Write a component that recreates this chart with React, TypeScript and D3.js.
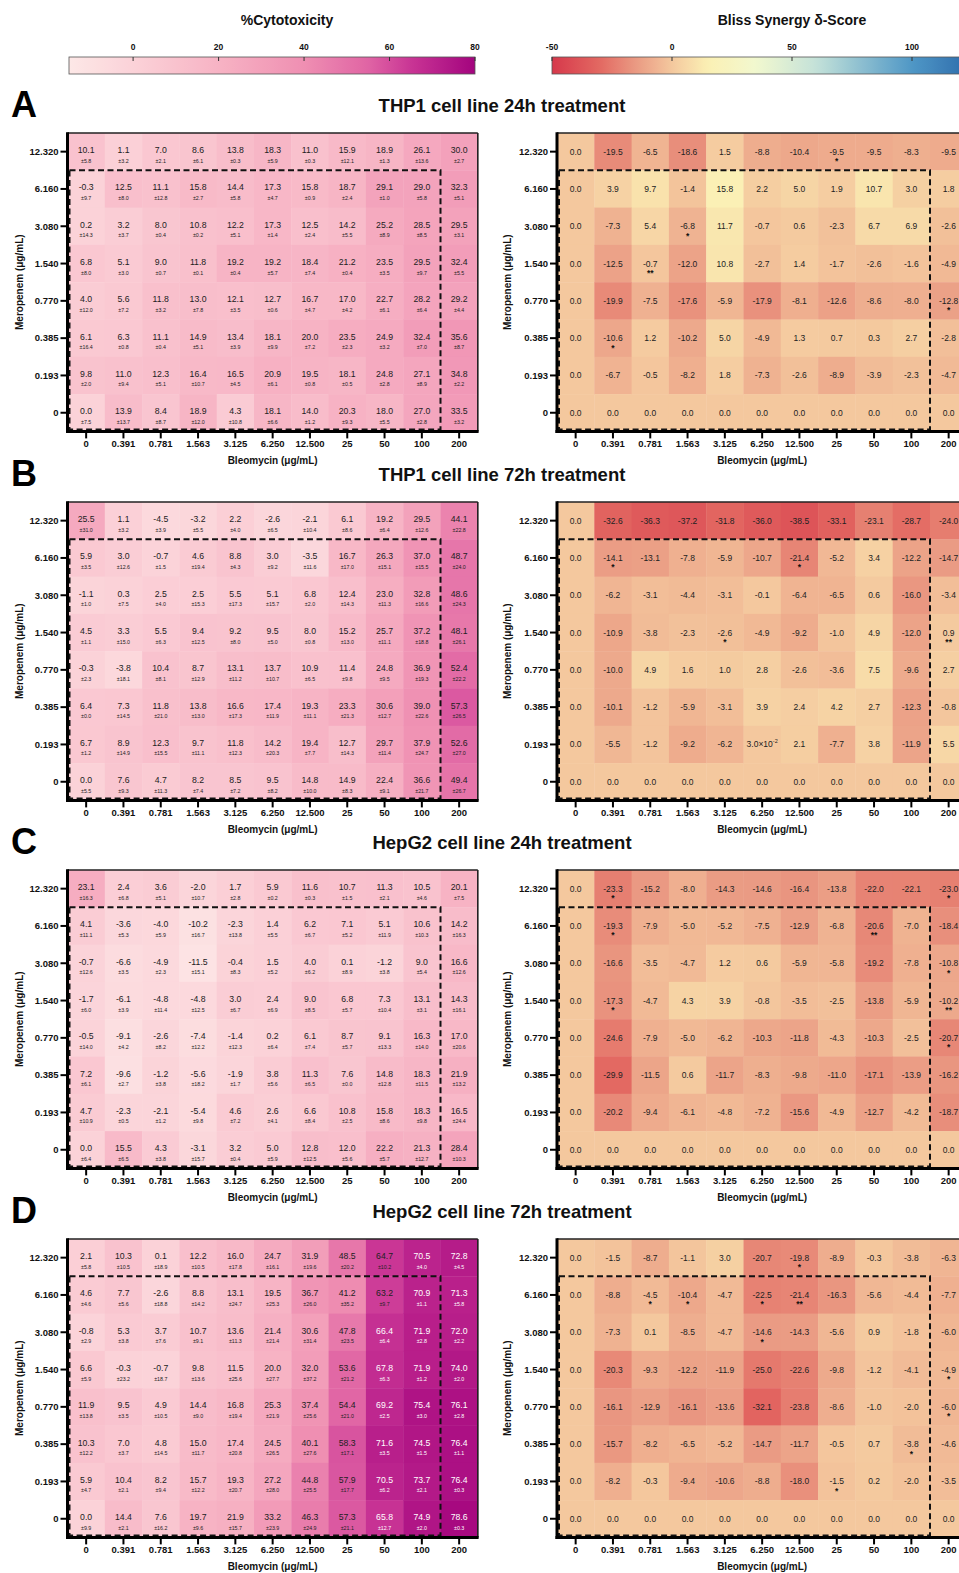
import * as d3 from 'd3';

const bleomycin = ['0', '0.391', '0.781', '1.563', '3.125', '6.250', '12.500', '25', '50', '100', '200'];
const meropenem = ['12.320', '6.160', '3.080', '1.540', '0.770', '0.385', '0.193', '0'];

// A: THP1 24h
const thp1_24_cyto = [
  [10.1, 1.1, 7.0, 8.6, 13.8, 18.3, 11.0, 15.9, 18.9, 26.1, 30.0],
  [-0.3, 12.5, 11.1, 15.8, 14.4, 17.3, 15.8, 18.7, 29.1, 29.0, 32.3],
  [0.2, 3.2, 8.0, 10.8, 12.2, 17.3, 12.5, 14.2, 25.2, 28.5, 29.5],
  [6.8, 5.1, 9.0, 11.8, 19.2, 19.2, 18.4, 21.2, 23.5, 29.5, 32.4],
  [4.0, 5.6, 11.8, 13.0, 12.1, 12.7, 16.7, 17.0, 22.7, 28.2, 29.2],
  [6.1, 6.3, 11.1, 14.9, 13.4, 18.1, 20.0, 23.5, 24.9, 32.4, 35.6],
  [9.8, 11.0, 12.3, 16.4, 16.5, 20.9, 19.5, 18.1, 24.8, 27.1, 34.8],
  [0.0, 13.9, 8.4, 18.9, 4.3, 18.1, 14.0, 20.3, 18.0, 27.0, 33.5],
];
const thp1_24_sd = [
  [5.8, 3.2, 2.1, 6.1, 0.3, 5.9, 0.3, 12.1, 1.3, 13.6, 2.7],
  [9.7, 8.0, 12.8, 2.7, 5.8, 4.7, 0.9, 2.4, 1.0, 5.8, 5.1],
  [14.3, 3.7, 0.4, 0.2, 5.1, 1.4, 2.4, 5.5, 8.9, 8.5, 3.1],
  [8.0, 3.0, 0.7, 0.1, 0.4, 5.7, 7.4, 0.4, 3.5, 9.7, 5.5],
  [12.0, 7.2, 3.2, 7.8, 3.5, 0.6, 4.7, 4.2, 6.1, 6.4, 4.4],
  [16.4, 0.8, 0.4, 5.1, 3.9, 9.9, 7.2, 2.3, 3.2, 7.0, 8.7],
  [2.0, 9.4, 5.1, 10.7, 4.5, 6.1, 0.8, 0.5, 2.8, 8.9, 2.2],
  [7.5, 13.7, 8.7, 12.0, 10.8, 6.6, 1.2, 9.3, 5.5, 2.8, 3.2],
];
const thp1_24_bliss = [
  [0.0, -19.5, -6.5, -18.6, 1.5, -8.8, -10.4, -9.5, -9.5, -8.3, -9.5],
  [0.0, 3.9, 9.7, -1.4, 15.8, 2.2, 5.0, 1.9, 10.7, 3.0, 1.8],
  [0.0, -7.3, 5.4, -6.8, 11.7, -0.7, 0.6, -2.3, 6.7, 6.9, -2.6],
  [0.0, -12.5, -0.7, -12.0, 10.8, -2.7, 1.4, -1.7, -2.6, -1.6, -4.9],
  [0.0, -19.9, -7.5, -17.6, -5.9, -17.9, -8.1, -12.6, -8.6, -8.0, -12.8],
  [0.0, -10.6, 1.2, -10.2, 5.0, -4.9, 1.3, 0.7, 0.3, 2.7, -2.8],
  [0.0, -6.7, -0.5, -8.2, 1.8, -7.3, -2.6, -8.9, -3.9, -2.3, -4.7],
  [0.0, 0.0, 0.0, 0.0, 0.0, 0.0, 0.0, 0.0, 0.0, 0.0, 0.0],
];
const thp1_24_sig = [[0, 7, '*'], [2, 3, '*'], [3, 2, '**'], [4, 10, '*'], [5, 1, '*']];

// B: THP1 72h
const thp1_72_cyto = [
  [25.5, 1.1, -4.5, -3.2, 2.2, -2.6, -2.1, 6.1, 19.2, 29.5, 44.1],
  [5.9, 3.0, -0.7, 4.6, 8.8, 3.0, -3.5, 16.7, 26.3, 37.0, 48.7],
  [-1.1, 0.3, 2.5, 2.5, 5.5, 5.1, 6.8, 12.4, 23.0, 32.8, 48.6],
  [4.5, 3.3, 5.5, 9.4, 9.2, 9.5, 8.0, 15.2, 25.7, 37.2, 48.1],
  [-0.3, -3.8, 10.4, 8.7, 13.1, 13.7, 10.9, 11.4, 24.8, 36.9, 52.4],
  [6.4, 7.3, 11.8, 13.8, 16.6, 17.4, 19.3, 23.3, 30.6, 39.0, 57.3],
  [6.7, 8.9, 12.3, 9.7, 11.8, 14.2, 19.4, 12.7, 29.7, 37.9, 52.6],
  [0.0, 7.6, 4.7, 8.2, 8.5, 9.5, 14.8, 14.9, 22.4, 36.6, 49.4],
];
const thp1_72_sd = [
  [31.0, 3.2, 3.9, 5.5, 4.0, 6.5, 10.4, 8.6, 6.4, 12.6, 22.8],
  [3.5, 12.6, 1.5, 19.4, 4.3, 9.2, 11.6, 17.0, 15.1, 15.5, 24.0],
  [1.0, 7.5, 4.0, 15.3, 17.3, 15.7, 2.0, 14.3, 11.3, 16.6, 24.3],
  [1.1, 15.0, 6.3, 12.5, 8.0, 5.0, 0.8, 13.0, 11.1, 18.8, 26.1],
  [2.3, 18.1, 8.1, 12.9, 11.2, 10.7, 6.5, 9.8, 9.5, 19.3, 22.2],
  [0.0, 14.5, 21.0, 13.0, 17.3, 11.9, 11.1, 21.3, 12.7, 22.6, 26.5],
  [1.2, 14.9, 15.5, 11.1, 12.3, 20.3, 7.7, 14.3, 11.4, 24.7, 27.0],
  [5.5, 9.3, 11.3, 7.4, 7.2, 8.2, 10.0, 8.3, 9.1, 21.7, 26.7],
];
const thp1_72_bliss = [
  [0.0, -32.6, -36.3, -37.2, -31.8, -36.0, -38.5, -33.1, -23.1, -28.7, -24.0],
  [0.0, -14.1, -13.1, -7.8, -5.9, -10.7, -21.4, -5.2, 3.4, -12.2, -14.7],
  [0.0, -6.2, -3.1, -4.4, -3.1, -0.1, -6.4, -6.5, 0.6, -16.0, -3.4],
  [0.0, -10.9, -3.8, -2.3, -2.6, -4.9, -9.2, -1.0, 4.9, -12.0, 0.9],
  [0.0, -10.0, 4.9, 1.6, 1.0, 2.8, -2.6, -3.6, 7.5, -9.6, 2.7],
  [0.0, -10.1, -1.2, -5.9, -3.1, 3.9, 2.4, 4.2, 2.7, -12.3, -0.8],
  [0.0, -5.5, -1.2, -9.2, -6.2, 0.03, 2.1, -7.7, 3.8, -11.9, 5.5],
  [0.0, 0.0, 0.0, 0.0, 0.0, 0.0, 0.0, 0.0, 0.0, 0.0, 0.0],
];
const thp1_72_sig = [[1, 1, '*'], [1, 6, '*'], [3, 4, '*'], [3, 10, '**']];

// C: HepG2 24h
const hepg2_24_cyto = [
  [23.1, 2.4, 3.6, -2.0, 1.7, 5.9, 11.6, 10.7, 11.3, 10.5, 20.1],
  [4.1, -3.6, -4.0, -10.2, -2.3, 1.4, 6.2, 7.1, 5.1, 10.6, 14.2],
  [-0.7, -6.6, -4.9, -11.5, -0.4, 1.5, 4.0, 0.1, -1.2, 9.0, 16.6],
  [-1.7, -6.1, -4.8, -4.8, 3.0, 2.4, 9.0, 6.8, 7.3, 13.1, 14.3],
  [-0.5, -9.1, -2.6, -7.4, -1.4, 0.2, 6.1, 8.7, 9.1, 16.3, 17.0],
  [7.2, -9.6, -1.2, -5.6, -1.9, 3.8, 11.3, 7.6, 14.8, 18.3, 21.9],
  [4.7, -2.3, -2.1, -5.4, 4.6, 2.6, 6.6, 10.8, 15.8, 18.3, 16.5],
  [0.0, 15.5, 4.3, -3.1, 3.2, 5.0, 12.8, 12.0, 22.2, 21.3, 28.4],
];
const hepg2_24_sd = [
  [16.3, 6.8, 5.1, 10.7, 2.8, 0.2, 0.3, 1.5, 2.1, 4.6, 7.5],
  [11.1, 5.3, 5.9, 16.7, 13.8, 5.5, 6.7, 5.2, 11.9, 10.3, 16.3],
  [12.6, 3.5, 2.3, 15.1, 8.3, 5.2, 6.2, 8.9, 3.8, 5.4, 12.6],
  [6.0, 3.9, 11.4, 12.5, 6.7, 6.9, 8.5, 5.7, 10.4, 3.1, 16.1],
  [14.0, 4.2, 8.2, 12.2, 12.3, 6.4, 7.4, 5.7, 13.3, 14.0, 20.6],
  [6.1, 2.7, 3.8, 18.2, 1.7, 5.6, 6.5, 0.0, 12.8, 11.5, 13.2],
  [10.9, 0.5, 1.2, 9.8, 7.2, 4.1, 8.4, 2.5, 8.6, 9.8, 24.4],
  [6.4, 6.5, 3.8, 15.7, 0.4, 5.9, 12.5, 5.6, 5.7, 12.7, 10.3],
];
const hepg2_24_bliss = [
  [0.0, -23.3, -15.2, -8.0, -14.3, -14.6, -16.4, -13.8, -22.0, -22.1, -23.0],
  [0.0, -19.3, -7.9, -5.0, -5.2, -7.5, -12.9, -6.8, -20.6, -7.0, -18.4],
  [0.0, -16.6, -3.5, -4.7, 1.2, 0.6, -5.9, -5.8, -19.2, -7.8, -10.8],
  [0.0, -17.3, -4.7, 4.3, 3.9, -0.8, -3.5, -2.5, -13.8, -5.9, -10.2],
  [0.0, -24.6, -7.9, -5.0, -6.2, -10.3, -11.8, -4.3, -10.3, -2.5, -20.7],
  [0.0, -29.9, -11.5, 0.6, -11.7, -8.3, -9.8, -11.0, -17.1, -13.9, -16.2],
  [0.0, -20.2, -9.4, -6.1, -4.8, -7.2, -15.6, -4.9, -12.7, -4.2, -18.7],
  [0.0, 0.0, 0.0, 0.0, 0.0, 0.0, 0.0, 0.0, 0.0, 0.0, 0.0],
];
const hepg2_24_sig = [
  [0, 1, '*'], [0, 10, '*'], [1, 1, '*'], [1, 8, '**'], [2, 10, '*'],
  [3, 1, '*'], [3, 10, '**'], [4, 10, '*'],
];

// D: HepG2 72h
const hepg2_72_cyto = [
  [2.1, 10.3, 0.1, 12.2, 16.0, 24.7, 31.9, 48.5, 64.7, 70.5, 72.8],
  [4.6, 7.7, -2.6, 8.8, 13.1, 19.5, 36.7, 41.2, 63.2, 70.9, 71.3],
  [-0.8, 5.3, 3.7, 10.7, 13.6, 21.4, 30.6, 47.8, 66.4, 71.9, 72.0],
  [6.6, -0.3, -0.7, 9.8, 11.5, 20.0, 32.0, 53.6, 67.8, 71.9, 74.0],
  [11.9, 9.5, 4.9, 14.4, 16.8, 25.3, 37.4, 54.4, 69.2, 75.4, 76.1],
  [10.3, 7.0, 4.8, 15.0, 17.4, 24.5, 40.1, 58.3, 71.6, 74.5, 76.4],
  [5.9, 10.4, 8.2, 15.7, 19.3, 27.2, 44.8, 57.9, 70.5, 73.7, 76.4],
  [0.0, 14.4, 7.6, 19.7, 21.9, 33.2, 46.3, 57.3, 65.8, 74.9, 78.6],
];
const hepg2_72_sd = [
  [5.8, 10.5, 18.9, 10.5, 17.8, 16.1, 19.6, 20.2, 10.2, 4.0, 4.5],
  [4.6, 5.6, 18.8, 14.2, 24.7, 25.3, 26.0, 35.2, 9.7, 1.1, 5.8],
  [2.9, 3.8, 7.6, 9.1, 11.3, 21.4, 31.4, 23.5, 6.4, 2.8, 2.2],
  [5.9, 23.2, 18.7, 13.6, 25.6, 27.7, 37.2, 21.2, 6.3, 1.2, 2.0],
  [13.8, 3.5, 10.5, 9.0, 19.4, 21.9, 25.6, 21.0, 2.5, 3.0, 2.8],
  [12.2, 3.7, 14.5, 11.7, 20.8, 26.5, 27.6, 17.1, 3.5, 1.5, 1.1],
  [4.7, 2.1, 9.4, 12.2, 20.7, 28.0, 25.5, 17.7, 6.2, 2.1, 0.3],
  [9.9, 2.1, 16.2, 9.6, 15.7, 23.9, 24.9, 21.1, 12.7, 2.0, 0.3],
];
const hepg2_72_bliss = [
  [0.0, -1.5, -8.7, -1.1, 3.0, -20.7, -19.8, -8.9, -0.3, -3.8, -6.3],
  [0.0, -8.8, -4.5, -10.4, -4.7, -22.5, -21.4, -16.3, -5.6, -4.4, -7.7],
  [0.0, -7.3, 0.1, -8.5, -4.7, -14.6, -14.3, -5.6, 0.9, -1.8, -6.0],
  [0.0, -20.3, -9.3, -12.2, -11.9, -25.0, -22.6, -9.8, -1.2, -4.1, -4.9],
  [0.0, -16.1, -12.9, -16.1, -13.6, -32.1, -23.8, -8.6, -1.0, -2.0, -6.0],
  [0.0, -15.7, -8.2, -6.5, -5.2, -14.7, -11.7, -0.5, 0.7, -3.8, -4.6],
  [0.0, -8.2, -0.3, -9.4, -10.6, -8.8, -18.0, -1.5, 0.2, -2.0, -3.5],
  [0.0, 0.0, 0.0, 0.0, 0.0, 0.0, 0.0, 0.0, 0.0, 0.0, 0.0],
];
const hepg2_72_sig = [
  [0, 6, '*'], [1, 2, '*'], [1, 3, '*'], [1, 5, '*'], [1, 6, '**'], [2, 5, '*'],
  [3, 10, '*'], [4, 10, '*'], [5, 9, '*'], [6, 7, '*'],
];

const cytoTicks = [0, 20, 40, 60, 80];
const blissTicks = [-50, 0, 50, 100];

const panels = [
  { letter: 'A', title: 'THP1 cell line 24h treatment', top: 133, cyto: thp1_24_cyto, sd: thp1_24_sd, bliss: thp1_24_bliss, sig: thp1_24_sig },
  { letter: 'B', title: 'THP1 cell line 72h treatment', top: 502, cyto: thp1_72_cyto, sd: thp1_72_sd, bliss: thp1_72_bliss, sig: thp1_72_sig },
  { letter: 'C', title: 'HepG2 cell line 24h treatment', top: 870, cyto: hepg2_24_cyto, sd: hepg2_24_sd, bliss: hepg2_24_bliss, sig: hepg2_24_sig },
  { letter: 'D', title: 'HepG2 cell line 72h treatment', top: 1239, cyto: hepg2_72_cyto, sd: hepg2_72_sd, bliss: hepg2_72_bliss, sig: hepg2_72_sig },
];

const FONT = 'Liberation Sans, Arial, Helvetica, sans-serif';
const CELL = 37.3;
const LEFT_X = 67.5;
const RIGHT_X = 557;

const x = d3.scaleBand<string>().domain(bleomycin).range([0, CELL * bleomycin.length]);
const y = d3.scaleBand<string>().domain(meropenem).range([0, CELL * meropenem.length]);
const W = CELL * bleomycin.length;
const H = CELL * meropenem.length;

const cytoColor = d3
  .scaleLinear<string>()
  .domain([-15, 0, 20, 40, 55, 65, 80])
  .range(['#fde8e7', '#fbd2d8', '#f7b3c4', '#ef8fb2', '#e064a4', '#c93595', '#a3047e'])
  .clamp(true);

const blissColor = d3
  .scaleLinear<string>()
  .domain([-50, -30, -15, 0, 15, 35, 60, 100, 125])
  .range(['#d6384b', '#e36962', '#ea9a83', '#f4c89e', '#fbf0b4', '#f2f8cf', '#c4e2d9', '#4f97c6', '#2c6aaa'])
  .clamp(true);

const fmt = (v: number) => {
  if (v !== 0 && Math.abs(v) < 0.05) return null;
  return v.toFixed(1);
};

function Heatmap({ x0, y0, values, sd, sig, kind }: any) {
  const color = kind === 'cyto' ? cytoColor : blissColor;
  const sigMap = new Map(sig ? sig.map((s: any) => [`${s[0]}-${s[1]}`, s[2]]) : []);
  const dashX1 = x(bleomycin[9])! + CELL;
  return (
    <g transform={`translate(${x0},${y0})`}>
      {values.map((row: number[], i: number) =>
        row.map((v, j) => {
          const cx = x(bleomycin[j])! + CELL / 2;
          const cy = y(meropenem[i])! + CELL / 2;
          const txt = fmt(v);
          const dark = kind === 'cyto' && v > 65;
          const tc = dark ? '#ffffff' : '#222';
          return (
            <g key={`${i}-${j}`}>
              <rect x={x(bleomycin[j])} y={y(meropenem[i])} width={CELL + 0.4} height={CELL + 0.4} fill={color(v)} />
              {kind === 'cyto' ? (
                <>
                  <text x={cx} y={cy + 1.5} textAnchor="middle" fontSize={8.7} fill={tc}>{txt}</text>
                  <text x={cx} y={cy + 11} textAnchor="middle" fontSize={5.3} fill={tc}>±{sd[i][j].toFixed(1)}</text>
                </>
              ) : (
                <>
                  {txt === null ? (
                    <text x={cx} y={cy + 3} textAnchor="middle" fontSize={8.5} fill={tc}>
                      3.0×10<tspan fontSize={5.5} dy={-4}>-2</tspan>
                    </text>
                  ) : (
                    <text x={cx} y={cy + 3} textAnchor="middle" fontSize={8.5} fill={tc}>{txt}</text>
                  )}
                  {sigMap.has(`${i}-${j}`) && (
                    <text x={cx} y={cy + 12.5} textAnchor="middle" fontSize={8.5} fontWeight="bold" fill="#111">
                      {sigMap.get(`${i}-${j}`) as string}
                    </text>
                  )}
                </>
              )}
            </g>
          );
        })
      )}
      {/* dashed box */}
      <rect
        x={2}
        y={y(meropenem[1])}
        width={dashX1 - 2}
        height={H - y(meropenem[1])! - 2}
        fill="none"
        stroke="#111"
        strokeWidth={2}
        strokeDasharray="6 3.5"
      />
      {/* frame */}
      <line x1={0} x2={W} y1={0} y2={0} stroke="#222" strokeWidth={1.6} />
      <line x1={W} x2={W} y1={0} y2={H} stroke="#222" strokeWidth={1.6} />
      <line x1={0} x2={0} y1={-0.8} y2={H + 1.5} stroke="#000" strokeWidth={3} />
      <line x1={-1.5} x2={W + 0.8} y1={H} y2={H} stroke="#000" strokeWidth={3} />
      {meropenem.map((m) => (
        <g key={m} transform={`translate(0,${y(m)! + CELL / 2})`}>
          <line x1={-7} x2={0} stroke="#000" strokeWidth={2} />
          <text x={-9} dy="0.35em" textAnchor="end" fontSize={9.5} fontWeight="bold" fill="#111">{m}</text>
        </g>
      ))}
      {bleomycin.map((b) => (
        <g key={b} transform={`translate(${x(b)! + CELL / 2},${H})`}>
          <line y1={0} y2={7} stroke="#000" strokeWidth={2} />
          <text y={16} textAnchor="middle" fontSize={9.5} fontWeight="bold" fill="#111">{b}</text>
        </g>
      ))}
      <text x={W / 2} y={H + 33} textAnchor="middle" fontSize={10} fontWeight="bold" fill="#111">Bleomycin (μg/mL)</text>
      <text
        transform={`translate(${-x0 + (kind === 'cyto' ? 23 : 511)},${H / 2}) rotate(-90)`}
        textAnchor="middle"
        fontSize={10}
        fontWeight="bold"
        fill="#111"
      >
        Meropenem (μg/mL)
      </text>
    </g>
  );
}

function ColorBar({ id, scale, domain, x0, x1, ticks, title, titleX }: any) {
  const pos = d3.scaleLinear().domain(domain).range([x0, x1]);
  const stops = d3.range(0, 1.0001, 0.02);
  return (
    <g>
      <defs>
        <linearGradient id={id} x1="0" x2="1" y1="0" y2="0">
          {stops.map((t: number) => (
            <stop key={t} offset={`${t * 100}%`} stopColor={scale(domain[0] + t * (domain[1] - domain[0]))} />
          ))}
        </linearGradient>
      </defs>
      <text x={titleX} y={25} textAnchor="middle" fontSize={14} fontWeight="bold" fill="#111">
        {title}
      </text>
      <rect x={x0} y={57} width={x1 - x0} height={17} fill={`url(#${id})`} stroke="#555" strokeWidth={0.8} />
      {ticks.map((t: number) => (
        <g key={t}>
          <line x1={pos(t)} x2={pos(t)} y1={57} y2={61} stroke="#333" strokeWidth={1} />
          <text x={pos(t)} y={50} textAnchor="middle" fontSize={8.5} fontWeight="bold" fill="#111">{t}</text>
        </g>
      ))}
    </g>
  );
}

export default function App() {
  return (
    <svg
      width={959}
      height={1573}
      style={{ position: 'absolute', left: 0, top: 0, background: '#fff' }}
      fontFamily={FONT}
    >
      <rect width={959} height={1573} fill="#fff" />
      <ColorBar id="cyto" scale={cytoColor} domain={[-15, 80]} x0={69} x1={475} ticks={cytoTicks} title="%Cytotoxicity" titleX={287} />
      <ColorBar id="bliss" scale={blissColor} domain={[-50, 125]} x0={552} x1={972} ticks={blissTicks} title="Bliss Synergy δ-Score" titleX={792} />
      {panels.map((p) => (
        <g key={p.letter}>
          <text x={11} y={p.top - 16} fontSize={36} fontWeight="bold" fill="#000">{p.letter}</text>
          <text x={502} y={p.top - 21} textAnchor="middle" fontSize={18.5} fontWeight="bold" fill="#111">{p.title}</text>
          <Heatmap x0={LEFT_X} y0={p.top} values={p.cyto} sd={p.sd} kind="cyto" />
          <Heatmap x0={RIGHT_X} y0={p.top} values={p.bliss} sig={p.sig} kind="bliss" />
        </g>
      ))}
    </svg>
  );
}
